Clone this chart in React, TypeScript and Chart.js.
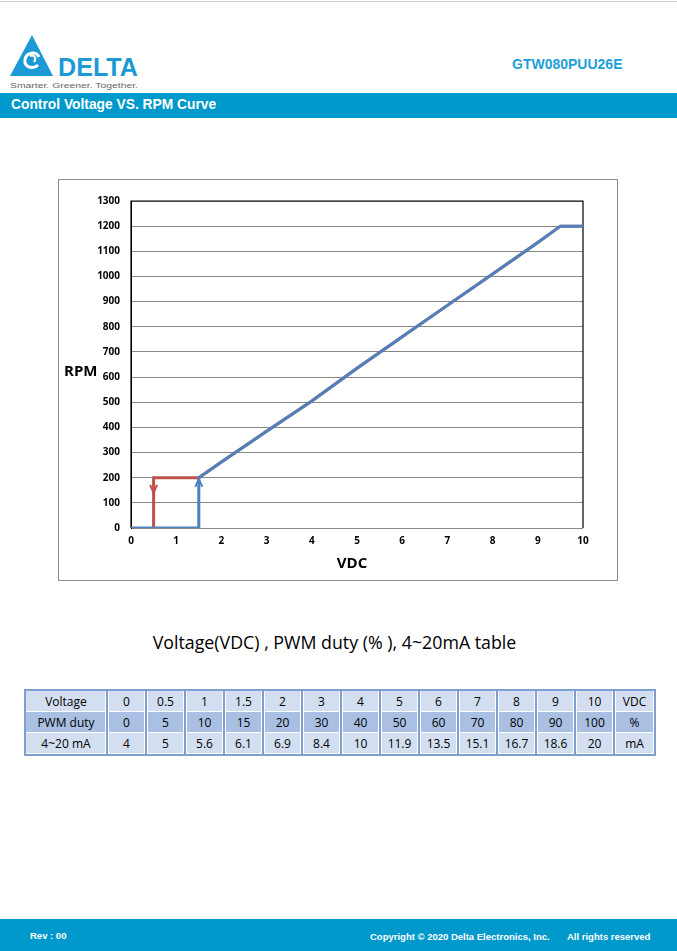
import React, { useEffect, useRef } from "react";
import { Chart, registerables } from "chart.js";

Chart.register(...registerables);

// ---- chart data ----
const blueX = [0, 1.5, 1.5, 2, 3, 4, 5, 6, 7, 8, 9, 9.5, 10];
const blueY = [0, 0, 200, 262, 385, 505, 635, 760, 885, 1010, 1135, 1200, 1200];
const redX = [0.5, 0.5, 1.5, 2, 3, 4, 5, 6, 7, 8, 9, 9.5, 10];
const redY = [0, 200, 200, 262, 385, 505, 635, 760, 885, 1010, 1135, 1200, 1200];
const arrowX = [0.5, 1.5];
const arrowY = [140, 195];
const arrowDir = ["down", "up"];
const arrowColor = ["#C0504D", "#4F81BD"];
const xTickMin = 0;
const xTickMax = 10;
const yTickMin = 0;
const yTickMax = 1300;
const yTickStep = 100;
const yTitle = "RPM";
const xTitle = "VDC";

// ---- table data ----
const tableTitle = "Voltage(VDC) , PWM duty (% ), 4~20mA table";
const rowLabels = ["Voltage", "PWM duty", "4~20 mA"];
const voltageRow = ["0", "0.5", "1", "1.5", "2", "3", "4", "5", "6", "7", "8", "9", "10", "VDC"];
const pwmRow = ["0", "5", "10", "15", "20", "30", "40", "50", "60", "70", "80", "90", "100", "%"];
const maRow = ["4", "5", "5.6", "6.1", "6.9", "8.4", "10", "11.9", "13.5", "15.1", "16.7", "18.6", "20", "mA"];

const FONT = "'Open Sans', 'Noto Sans', sans-serif";

const decorPlugin = {
  id: "decor",
  beforeDraw(chart: any) {
    const { ctx, width, height } = chart;
    ctx.save();
    ctx.fillStyle = "#fff";
    ctx.fillRect(0, 0, width, height);
    ctx.strokeStyle = "#8a8a8a";
    ctx.lineWidth = 1;
    ctx.strokeRect(0.5, 0.5, width - 1, height - 1);
    ctx.restore();
  },
  beforeDatasetsDraw(chart: any) {
    const { ctx, chartArea } = chart;
    ctx.save();
    ctx.strokeStyle = "#000";
    ctx.lineWidth = 1.2;
    ctx.beginPath();
    ctx.moveTo(chartArea.left, chartArea.bottom);
    ctx.lineTo(chartArea.left, chartArea.top);
    ctx.lineTo(chartArea.right, chartArea.top);
    ctx.lineTo(chartArea.right, chartArea.bottom);
    ctx.stroke();
    ctx.restore();
  },
  afterDatasetsDraw(chart: any) {
    const { ctx, scales } = chart;
    ctx.save();
    ctx.lineWidth = 2;
    ctx.lineJoin = "miter";
    for (let i = 0; i < arrowX.length; i++) {
      const px = scales.x.getPixelForValue(arrowX[i]);
      const py = scales.y.getPixelForValue(arrowY[i]);
      const d = arrowDir[i] === "down" ? -1 : 1;
      ctx.strokeStyle = arrowColor[i];
      ctx.beginPath();
      ctx.moveTo(px - 3.5, py + d * 8);
      ctx.lineTo(px, py);
      ctx.lineTo(px + 3.5, py + d * 8);
      ctx.stroke();
    }
    ctx.restore();
  },
  afterDraw(chart: any) {
    const { ctx, chartArea } = chart;
    ctx.save();
    ctx.fillStyle = "#000";
    ctx.font = `bold 15px ${FONT}`;
    ctx.textBaseline = "middle";
    ctx.textAlign = "left";
    ctx.fillText(yTitle, 6, 193);
    ctx.textAlign = "center";
    ctx.fillText(xTitle, (chartArea.left + chartArea.right) / 2 - 5, 385);
    ctx.restore();
  },
};

function RpmChart() {
  const ref = useRef<HTMLCanvasElement | null>(null);
  useEffect(() => {
    if (!ref.current) return;
    const chart = new Chart(ref.current, {
      type: "line",
      data: {
        datasets: [
          {
            label: "up",
            data: blueX.map((x, i) => ({ x, y: blueY[i] })),
            borderColor: "#4F81BD",
            borderWidth: 3,
            pointRadius: 0,
            tension: 0,
            fill: false,
          },
          {
            label: "down",
            data: redX.map((x, i) => ({ x, y: redY[i] })),
            borderColor: "#C0504D",
            borderWidth: 3,
            pointRadius: 0,
            tension: 0,
            fill: false,
          },
        ],
      },
      options: {
        responsive: false,
        animation: false,
        devicePixelRatio: 1,
        layout: { padding: { left: 0, top: 22, right: 35, bottom: 0 } },
        plugins: { legend: { display: false }, tooltip: { enabled: false } },
        scales: {
          x: {
            type: "linear",
            min: xTickMin,
            max: xTickMax,
            grid: { display: false, drawTicks: false },
            border: { display: false },
            ticks: {
              stepSize: 1,
              padding: 7,
              color: "#000",
              font: { family: FONT, size: 10, weight: "bold" },
              callback: (v: any) => String(v),
            },
            afterFit(scale: any) {
              scale.height = 53;
            },
          },
          y: {
            type: "linear",
            min: yTickMin,
            max: yTickMax,
            grid: { color: "#868686", lineWidth: 1, drawTicks: false },
            border: { display: true, color: "#000", width: 1 },
            ticks: {
              stepSize: yTickStep,
              padding: 11,
              color: "#000",
              font: { family: FONT, size: 10, weight: "bold" },
              callback: (v: any) => String(v),
            },
            afterFit(scale: any) {
              scale.width = 73;
            },
          },
        },
      },
      plugins: [decorPlugin],
    });
    return () => chart.destroy();
  }, []);
  return (
    <canvas
      ref={ref}
      width={560}
      height={402}
      style={{ position: "absolute", left: 58, top: 179, width: 560, height: 402 }}
    />
  );
}

function Logo() {
  return (
    <svg
      width={140}
      height={60}
      style={{ position: "absolute", left: 6, top: 32 }}
      viewBox="0 0 140 60"
    >
      <polygon points="26,3 4,44 47,44" fill="#1B9AD6" />
      <path
        d="M33,25 C30,19 20,20 19,28 C18,35 27,38 32,33"
        fill="none"
        stroke="#fff"
        strokeWidth={3}
      />
      <path d="M24,24 C28,22 31,26 28,30" fill="none" stroke="#fff" strokeWidth={2} />
      <text
        x={52}
        y={44}
        fontFamily="'Liberation Sans', Arial, sans-serif"
        fontWeight="bold"
        fontSize={25}
        fill="#1B9AD6"
        textLength={80}
        lengthAdjust="spacingAndGlyphs"
      >
        DELTA
      </text>
      <text
        x={4}
        y={56}
        fontFamily="'Liberation Sans', Arial, sans-serif"
        fontSize={8}
        fill="#666"
        textLength={128}
        lengthAdjust="spacingAndGlyphs"
      >
        Smarter.  Greener.  Together.
      </text>
    </svg>
  );
}

export default function App() {
  const rows = [voltageRow, pwmRow, maRow];
  const rowBg = ["#D3DFF0", "#A9C0E2", "#D3DFF0"];
  return (
    <div
      style={{
        position: "absolute",
        left: 0,
        top: 0,
        width: 677,
        height: 951,
        background: "#fff",
        overflow: "hidden",
        fontFamily: "'Liberation Sans', Arial, sans-serif",
      }}
    >
      <div style={{ position: "absolute", left: 0, top: 1, width: 677, height: 1, background: "#cfcfcf" }} />
      <Logo />
      <div
        style={{
          position: "absolute",
          left: 512,
          top: 56,
          fontSize: 14,
          fontWeight: "bold",
          color: "#1E9FD9",
          lineHeight: "16px",
        }}
      >
        GTW080PUU26E
      </div>
      <div
        style={{
          position: "absolute",
          left: 0,
          top: 93,
          width: 677,
          height: 25,
          background: "#0099CC",
        }}
      >
        <div
          style={{
            position: "absolute",
            left: 11,
            top: 4,
            fontSize: 13.8,
            fontWeight: "bold",
            color: "#fff",
            lineHeight: "16px",
          }}
        >
          Control Voltage VS. RPM Curve
        </div>
      </div>

      <RpmChart />

      <div
        style={{
          position: "absolute",
          left: 0,
          top: 631,
          width: 669,
          textAlign: "center",
          fontFamily: FONT,
          fontSize: 17.8,
          lineHeight: "23px",
          color: "#000",
        }}
      >
        {tableTitle}
      </div>

      <table
        style={{
          position: "absolute",
          left: 24,
          top: 689,
          width: 628,
          borderCollapse: "separate",
          borderSpacing: 0,
          tableLayout: "fixed",
          border: "2px solid #7F9FD0",
          fontFamily: FONT,
          fontSize: 12,
          color: "#000",
        }}
      >
        <colgroup>
          <col style={{ width: 82 }} />
          {voltageRow.map((_, i) => (
            <col key={i} style={{ width: 39 }} />
          ))}
        </colgroup>
        <tbody>
          {rows.map((r, ri) => (
            <tr key={ri} style={{ height: 21 }}>
              <td
                style={{
                  background: rowBg[ri],
                  textAlign: "center",
                  padding: 0,
                  boxShadow: "inset 0 -1px 0 #fff, inset -1px 0 0 #fff",
                  borderRight: "2px solid #7F9FD0",
                  lineHeight: "20px",
                }}
              >
                {rowLabels[ri]}
              </td>
              {r.map((v, ci) => (
                <td
                  key={ci}
                  style={{
                    background: rowBg[ri],
                    textAlign: "center",
                    padding: 0,
                    boxShadow: "inset 0 -1px 0 #fff, inset 1px 0 0 #fff, inset -1px 0 0 #fff",
                    borderRight: ci < r.length - 1 ? "2px solid #7F9FD0" : "none",
                    lineHeight: "20px",
                  }}
                >
                  {v}
                </td>
              ))}
            </tr>
          ))}
        </tbody>
      </table>

      <div
        style={{
          position: "absolute",
          left: 0,
          top: 919,
          width: 677,
          height: 32,
          background: "#0099CC",
          color: "#fff",
          fontFamily: "'Liberation Sans', Arial, sans-serif",
          fontWeight: "bold",
          fontSize: 9.5,
        }}
      >
        <div style={{ position: "absolute", left: 30, top: 11, lineHeight: "12px" }}>Rev : 00</div>
        <div style={{ position: "absolute", left: 370, top: 12, lineHeight: "12px" }}>
          Copyright © 2020 Delta Electronics, Inc.
        </div>
        <div style={{ position: "absolute", left: 567, top: 12, lineHeight: "12px" }}>
          All rights reserved
        </div>
      </div>
    </div>
  );
}
